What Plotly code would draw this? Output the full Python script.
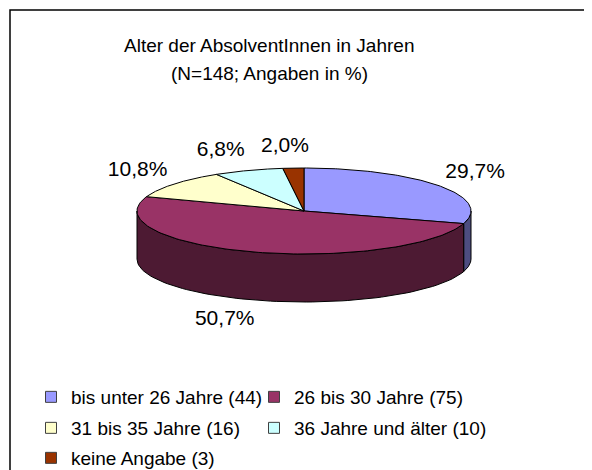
import numpy as np
import plotly.graph_objects as go

# ---- data ----
categories = ["bis unter 26 Jahre (44)", "26 bis 30 Jahre (75)", "31 bis 35 Jahre (16)",
              "36 Jahre und älter (10)", "keine Angabe (3)"]
counts = [44, 75, 16, 10, 3]
pct_labels = ["29,7%", "50,7%", "10,8%", "6,8%", "2,0%"]
title_lines = ["Alter der AbsolventInnen in Jahren", "(N=148; Angaben in %)"]

# ---- style ----
top_colors = ["#9999FF", "#993366", "#FFFFCC", "#CCFFFF", "#993300"]
side_colors = ["#4D4D80", "#4D1A33", "#808066", "#668080", "#4D1A00"]
FONT = "Arial, Liberation Sans, sans-serif"
W, H = 592, 470
OFF = 8  # page body margin
CX, CY, RX, RY, DEPTH = 304, 211, 167, 43, 48
LRX, LHW, LRY = 183, 24, 64

fracs = np.array(counts, dtype=float) / sum(counts)
cum = np.concatenate([[0.0], np.cumsum(fracs)])

fig = go.Figure()

def ex(t):
    return CX + RX * np.cos(np.deg2rad(t))

def ey(t):
    return CY - RY * np.sin(np.deg2rad(t))

# side walls (visible lower half)
for i in range(len(counts)):
    a0 = 90 - 360 * cum[i]
    a1 = 90 - 360 * cum[i + 1]
    lo, hi = max(a1, -180), min(a0, 0)
    if lo < hi:
        t = np.linspace(hi, lo, 80)
        xs = np.concatenate([ex(t), ex(t[::-1])])
        ys = np.concatenate([ey(t), ey(t[::-1]) + DEPTH])
        fig.add_trace(go.Scatter(x=list(xs) + [xs[0]], y=list(ys) + [ys[0]], mode="lines",
                                 fill="toself", fillcolor=side_colors[i],
                                 line=dict(color="black", width=1),
                                 showlegend=False, hoverinfo="skip"))

# top faces
for i in range(len(counts)):
    a0 = 90 - 360 * cum[i]
    a1 = 90 - 360 * cum[i + 1]
    t = np.linspace(a0, a1, 120)
    xs = [CX] + list(ex(t)) + [CX]
    ys = [CY] + list(ey(t)) + [CY]
    fig.add_trace(go.Scatter(x=xs, y=ys, mode="lines", fill="toself",
                             fillcolor=top_colors[i],
                             line=dict(color="black", width=1),
                             showlegend=False, hoverinfo="skip"))

# percentage labels
lx, ly = [], []
for i in range(len(counts)):
    m = np.deg2rad(90 - 360 * (cum[i] + cum[i + 1]) / 2)
    below = np.sin(m) < 0
    lx.append(CX + LRX * np.cos(m) + LHW * np.tanh(5 * np.cos(m)))
    ly.append(CY - LRY * np.sin(m) + (DEPTH if below else 0))
fig.add_trace(go.Scatter(x=lx, y=ly, mode="text", text=pct_labels,
                         textfont=dict(family=FONT, size=21, color="black"),
                         showlegend=False, hoverinfo="skip"))

# legend entries (one legend per entry, laid out in a 2-column grid)
col_x = [31, 254]
row_y = [397, 428, 458]
layout_legends = {}
for i, name in enumerate(categories):
    lname = "legend" if i == 0 else "legend%d" % (i + 1)
    fig.add_trace(go.Scatter(x=[None], y=[None], mode="markers", name=name,
                             marker=dict(symbol="square", size=11, color=top_colors[i],
                                         line=dict(color="#404040", width=1)),
                             legend=lname, showlegend=True))
    layout_legends[lname] = dict(
        orientation="h", font=dict(family=FONT, size=19, color="black"),
        bgcolor="rgba(0,0,0,0)", xanchor="left", yanchor="middle",
        x=(col_x[i % 2] - OFF) / W, y=1 - (row_y[i // 2] - OFF) / H,
        itemclick=False, itemdoubleclick=False)

annotations = []
for j, line in enumerate(title_lines):
    annotations.append(dict(x=269, y=[45, 73][j], xref="x", yref="y", text=line,
                            showarrow=False, font=dict(family=FONT, size=19, color="black")))

fig.update_layout(
    width=W, height=H, margin=dict(l=0, r=0, t=0, b=0),
    paper_bgcolor="white", plot_bgcolor="white",
    xaxis=dict(range=[OFF, W + OFF], visible=False, fixedrange=True),
    yaxis=dict(range=[H + OFF, OFF], visible=False, fixedrange=True),
    annotations=annotations,
    shapes=[dict(type="rect", xref="paper", yref="paper", x0=(10 - OFF) / W, x1=1.2,
                 y0=1 - (10 - OFF) / H, y1=-0.2, line=dict(color="black", width=1.5))],
    **layout_legends,
)

fig.write_html("out.html")
